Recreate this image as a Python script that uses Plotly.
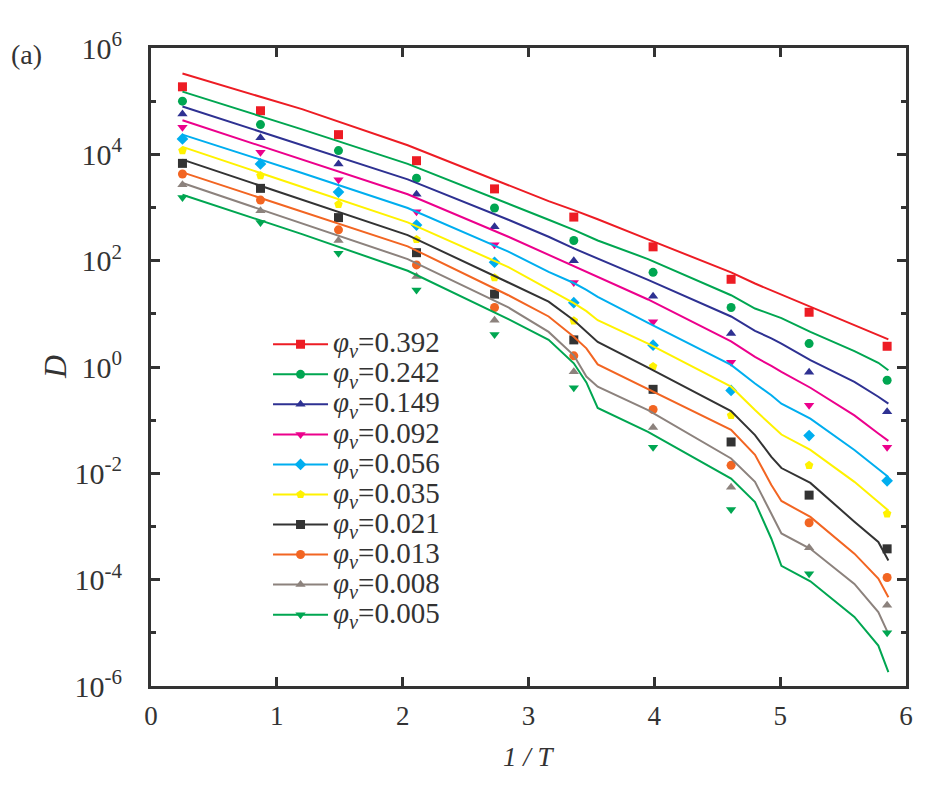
import plotly.graph_objects as go

# phi_v values of the ten series
phi = ["0.392", "0.242", "0.149", "0.092", "0.056", "0.035", "0.021", "0.013", "0.008", "0.005"]

# 1/T of the simulation points
x_pts = [0.25, 0.87, 1.49, 2.11, 2.73, 3.36, 3.99, 4.61, 5.23, 5.85]

# log10(D) of the points
pts_392 = [5.27, 4.82, 4.37, 3.88, 3.35, 2.82, 2.26, 1.65, 1.03, 0.39]
pts_242 = [5.00, 4.56, 4.07, 3.55, 2.99, 2.38, 1.78, 1.12, 0.44, -0.25]
pts_149 = [4.76, 4.31, 3.82, 3.25, 2.64, 2.00, 1.33, 0.63, -0.10, -0.84]
pts_092 = [4.51, 4.04, 3.52, 2.92, 2.30, 1.59, 0.85, 0.09, -0.72, -1.51]
pts_056 = [4.29, 3.82, 3.29, 2.67, 1.97, 1.21, 0.41, -0.44, -1.29, -2.14]
pts_035 = [4.07, 3.60, 3.06, 2.40, 1.68, 0.87, 0.01, -0.91, -1.85, -2.76]
pts_021 = [3.83, 3.36, 2.81, 2.15, 1.37, 0.51, -0.42, -1.41, -2.41, -3.42]
pts_013 = [3.63, 3.14, 2.58, 1.92, 1.12, 0.21, -0.80, -1.85, -2.93, -3.96]
pts_008 = [3.43, 2.94, 2.38, 1.70, 0.88, -0.09, -1.14, -2.26, -3.40, -4.48]
pts_005 = [3.19, 2.72, 2.14, 1.45, 0.61, -0.39, -1.51, -2.68, -3.89, -5.00]

# 1/T of the fitted curves
x_fit = [0.25, 1.2, 2.04, 2.84, 3.16, 3.36, 3.46, 3.55, 3.95, 4.61, 4.80, 4.93, 5.01,
         5.24, 5.59, 5.78, 5.86]

# log10(D) of the fitted curves
fit_392 = [5.52, 4.85, 4.17, 3.41, 3.12, 2.95, 2.86, 2.78, 2.40, 1.78, 1.57, 1.44, 1.37,
           1.13, 0.78, 0.60, 0.52]
fit_242 = [5.18, 4.47, 3.82, 3.08, 2.77, 2.58, 2.48, 2.38, 2.03, 1.35, 1.10, 0.99, 0.92,
           0.66, 0.30, 0.08, -0.06]
fit_149 = [4.90, 4.18, 3.53, 2.77, 2.45, 2.23, 2.13, 2.03, 1.64, 0.95, 0.68, 0.54, 0.44,
           0.13, -0.28, -0.56, -0.69]
fit_092 = [4.64, 3.91, 3.25, 2.45, 2.11, 1.89, 1.79, 1.68, 1.27, 0.48, 0.19, 0.02, -0.09,
           -0.39, -0.91, -1.25, -1.39]
fit_056 = [4.37, 3.65, 2.99, 2.17, 1.79, 1.58, 1.45, 1.32, 0.83, 0.04, -0.31, -0.53, -0.69,
           -0.97, -1.56, -1.91, -2.07]
fit_035 = [4.14, 3.39, 2.72, 1.88, 1.47, 1.20, 1.05, 0.88, 0.44, -0.37, -0.81, -1.09, -1.27,
           -1.56, -2.16, -2.54, -2.70]
fit_021 = [3.90, 3.14, 2.48, 1.59, 1.23, 0.88, 0.66, 0.47, -0.01, -0.83, -1.28, -1.69, -1.90,
           -2.18, -2.91, -3.29, -3.64]
fit_013 = [3.66, 2.92, 2.27, 1.35, 0.95, 0.57, 0.35, 0.05, -0.42, -1.18, -1.65, -2.22, -2.52,
           -2.82, -3.51, -3.98, -4.33]
fit_008 = [3.46, 2.70, 2.03, 1.12, 0.66, 0.22, -0.18, -0.37, -0.81, -1.72, -2.16, -2.76, -3.13,
           -3.42, -4.08, -4.61, -5.02]
fit_005 = [3.24, 2.50, 1.81, 0.90, 0.51, 0.07, -0.29, -0.77, -1.22, -2.10, -2.54, -3.23, -3.74,
           -4.03, -4.70, -5.24, -5.74]

points = [pts_392, pts_242, pts_149, pts_092, pts_056, pts_035, pts_021, pts_013, pts_008, pts_005]
fits = [fit_392, fit_242, fit_149, fit_092, fit_056, fit_035, fit_021, fit_013, fit_008, fit_005]

colors = ['#ed1c24', '#00a651', '#2e3192', '#ec008c', '#00aeef',
          '#fff200', '#333333', '#f26522', '#8c827d', '#00a651']
symbols = ['square', 'circle', 'triangle-up', 'triangle-down', 'diamond',
           'pentagon', 'square', 'circle', 'triangle-up', 'triangle-down']

FONT = 'Liberation Serif'
INK = '#333333'

fig = go.Figure()

for i in range(len(phi)):
    grp = 'g' + str(i)
    fig.add_trace(go.Scatter(
        x=x_fit, y=[10 ** v for v in fits[i]],
        mode='lines', line=dict(color=colors[i], width=2),
        legendgroup=grp, showlegend=False, hoverinfo='skip'
    ))
    fig.add_trace(go.Scatter(
        x=x_pts, y=[10 ** v for v in points[i]],
        mode='markers',
        marker=dict(symbol=symbols[i], color=colors[i], size=9),
        legendgroup=grp, showlegend=False
    ))
    # legend entry only: line with marker
    fig.add_trace(go.Scatter(
        x=[None], y=[None], mode='lines+markers',
        name='<span style="font-size:29px"><i>φ</i><sub><i>ν</i></sub>=' + phi[i] + '</span>',
        line=dict(color=colors[i], width=2),
        marker=dict(symbol=symbols[i], color=colors[i], size=9),
        legendgroup=grp
    ))

tick_exp = [-6, -4, -2, 0, 2, 4, 6]
minor_exp = [-5, -3, -1, 1, 3, 5]

fig.update_layout(
    width=944, height=786,
    margin=dict(l=143, r=46, t=40, b=108),
    paper_bgcolor='white', plot_bgcolor='white',
    font=dict(family=FONT, color=INK, size=24),
    showlegend=True,
    legend=dict(x=0.155, y=0.567, xanchor='left', yanchor='top',
                bgcolor='rgba(0,0,0,0)', font=dict(size=20.8, family=FONT, color=INK),
                tracegroupgap=0, itemwidth=55),
    xaxis=dict(range=[0, 6], tickvals=[0, 1, 2, 3, 4, 5, 6],
               showline=True, linewidth=3, linecolor=INK, mirror='ticks',
               ticks='inside', ticklen=9, tickwidth=3, tickcolor=INK,
               showgrid=False, zeroline=False, ticklabelstandoff=4,
               tickfont=dict(size=27)),
    yaxis=dict(type='log', range=[-6, 6],
               tickvals=[10 ** e for e in tick_exp],
               ticktext=['10<sup>' + str(e) + '</sup>' for e in tick_exp],
               showline=True, linewidth=3, linecolor=INK, mirror='ticks',
               ticks='inside', ticklen=9, tickwidth=3, tickcolor=INK,
               minor=dict(tickmode='array', tickvals=[10 ** e for e in minor_exp],
                          ticks='inside', ticklen=5, tickwidth=3, tickcolor=INK),
               showgrid=False, zeroline=False, ticklabelstandoff=20,
               tickfont=dict(size=30)),
    annotations=[
        dict(text='(a)', x=-0.188, y=0.99, xref='paper', yref='paper',
             xanchor='left', yanchor='middle', showarrow=False, font=dict(size=28)),
        dict(text='<i>D</i>', x=-0.127, y=0.5, xref='paper', yref='paper',
             xanchor='center', yanchor='middle', textangle=-90, showarrow=False,
             font=dict(size=32)),
        dict(text='<i>1 / T</i>', x=0.5, y=-0.112, xref='paper', yref='paper',
             xanchor='center', yanchor='middle', showarrow=False, font=dict(size=27)),
    ]
)

fig.write_html("out.html")
